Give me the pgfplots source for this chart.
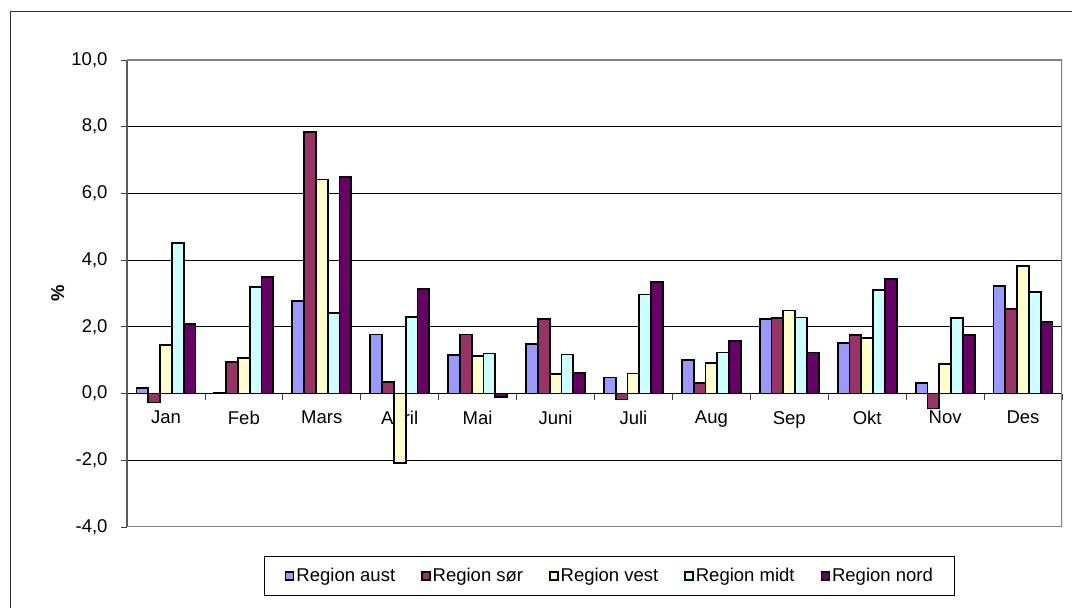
\documentclass[border=0pt]{standalone}
\usepackage{pgfplots}
\usepackage{pgfplotstable}
\pgfplotsset{compat=1.18}
\usepackage{fontspec}
\setmainfont{Liberation Sans}

\definecolor{aust}{HTML}{9999FF}
\definecolor{sor}{HTML}{993366}
\definecolor{vest}{HTML}{FFFFCC}
\definecolor{midt}{HTML}{CCFFFF}
\definecolor{nord}{HTML}{660066}
\newcommand\ff{\fontsize{18.5}{22}\selectfont}

% endring i prosent, per region og maaned
\pgfplotstableread{
x  aust   sor    vest   midt  nord
0  0.17  -0.27   1.45   4.52  2.09
1  0.01   0.94   1.06   3.19  3.50
2  2.77   7.84   6.42   2.42  6.49
3  1.77   0.35  -2.07   2.30  3.13
4  1.15   1.77   1.13   1.20 -0.11
5  1.48   2.23   0.59   1.17  0.62
6  0.48  -0.18   0.60   2.97  3.34
7  1.00   0.31   0.91   1.23  1.57
8  2.24   2.27   2.49   2.28  1.23
9  1.52   1.75   1.67   3.11  3.44
10 0.31  -0.45   0.89   2.27  1.75
11 3.22   2.54   3.83   3.04  2.14
}\data

\begin{document}
\begin{tikzpicture}
\begin{axis}[
  set layers,
  at={(127pt,81pt)}, anchor=south west,
  scale only axis, width=935pt, height=467pt,
  ybar=0pt, bar width=11.8pt,
  xmin=-0.5, xmax=11.5, ymin=-4, ymax=10,
  axis y line=left, axis x line*=middle,
  x axis line style={-, line width=1pt, black},
  y axis line style={-, line width=1.5pt, black!65},
  xtick={0,...,11},
  xticklabels={Jan,Feb,Mars,April,Mai,Juni,Juli,Aug,Sep,Okt,Nov,Des},
  minor xtick={-0.5,0.5,...,11.5},
  major x tick style={draw=none},
  ytick={-4,-2,...,10},
  yticklabels={{-4,0},{-2,0},{0,0},{2,0},{4,0},{6,0},{8,0},{10,0}},
  tick align=outside, major tick length=6pt, minor tick length=6pt,
  tick style={line width=0.8pt, black!75},
  ymajorgrids, grid style={line width=1pt, black},
  tick label style={font=\ff},
  yticklabel style={xshift=-10pt},
  xticklabel style={yshift=-8pt},
  ylabel={\bfseries\%}, ylabel style={font=\ff, at={(axis description cs:-0.074,0.5)}, anchor=center},
  legend columns=5,
  legend style={at={(0.5165,-0.1049)}, anchor=center, draw=black, line width=1pt,
    font=\ff, inner xsep=20pt, inner ysep=10.5pt, nodes={inner sep=2pt},
    /tikz/every even column/.append style={column sep=24pt}},
  legend image code/.code={\draw[#1, line width=1.5pt] (0pt,-4pt) rectangle (8pt,4pt);},
]
\addplot[draw=black, line width=1.8pt, fill=aust] table[x=x, y=aust] {\data};
\addplot[draw=black, line width=1.8pt, fill=sor]  table[x=x, y=sor]  {\data};
\addplot[draw=black, line width=1.8pt, fill=vest] table[x=x, y=vest] {\data};
\addplot[draw=black, line width=1.8pt, fill=midt] table[x=x, y=midt] {\data};
\addplot[draw=black, line width=1.8pt, fill=nord] table[x=x, y=nord] {\data};
\legend{Region aust, Region sør, Region vest, Region midt, Region nord}
\draw[line width=2pt, black!50] (rel axis cs:0,1) -- (rel axis cs:1,1) -- (rel axis cs:1,0) -- (rel axis cs:0,0);
\end{axis}
\draw[line width=1pt, black!80] (10pt,-30pt) rectangle (1100pt,596pt);
\pgfresetboundingbox
\path[use as bounding box] (0pt,0pt) rectangle (1072pt,608pt);
\end{tikzpicture}
\end{document}
